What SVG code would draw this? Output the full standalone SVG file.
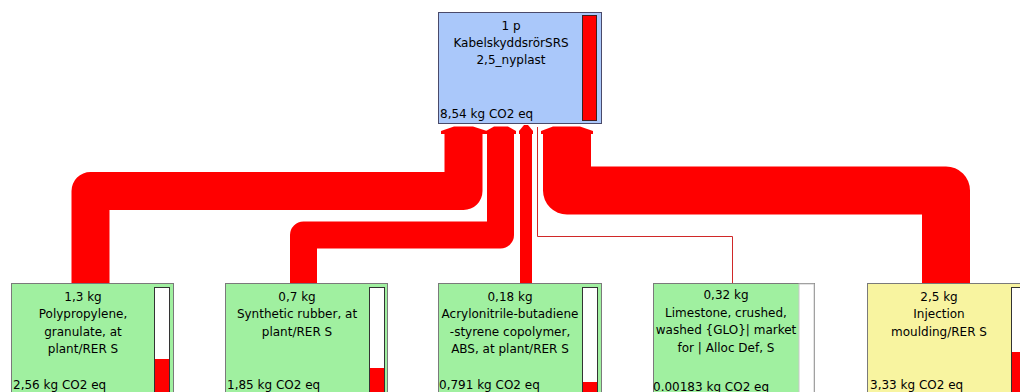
<svg xmlns="http://www.w3.org/2000/svg" width="1020" height="392" viewBox="0 0 1020 392">
<style>
.flow{fill:none;stroke:#ff0000;stroke-linejoin:round;stroke-linecap:butt}
.head{fill:#ff0000}
.box{stroke:#7a7a7a;stroke-width:1}
.top{fill:#aac8fa;stroke:#4a4a6a;stroke-width:1}
.green{fill:#a0f0a0}
.yellow{fill:#f8f4a0}
.bar{fill:#ffffff;stroke:#333333;stroke-width:1}
.red{fill:#ff0000}
text{font-family:"DejaVu Sans","Liberation Sans",sans-serif;font-size:12px;fill:#000}
.c{text-anchor:middle}
</style>
<rect width="1020" height="392" fill="#ffffff"/>
<g id="connectors">
  <polyline class="flow" stroke-width="38" points="463.5,133 463.5,191 90.5,191 90.5,284"/>
  <polygon class="head" points="441,134 441,131 454,126.5 473,126.5 487,131 487,134"/>
  <polyline class="flow" stroke-width="27" points="500.5,133 500.5,235 303.5,235 303.5,284"/>
  <polygon class="head" points="486,134 486,131 494,126.5 508,126.5 516,131 516,134"/>
  <line x1="526" y1="133" x2="526" y2="284" stroke="#ff0000" stroke-width="12"/>
  <polygon class="head" points="519,134 519,131 524,125 528,125 533,131 533,134"/>
  <polyline fill="none" stroke="#d02828" stroke-width="1" points="537.5,127 537.5,236.5 732.5,236.5 732.5,284"/>
  <polyline class="flow" stroke-width="48" points="567,133 567,190.5 946,190.5 946,284"/>
  <polygon class="head" points="541,134 541,131 553,126.5 580,126.5 593,131 593,134"/>
</g>
<g id="node-main">
  <rect class="top" x="438.5" y="12.5" width="163" height="111"/>
  <rect x="582.5" y="15.5" width="14" height="105" fill="#ff0000" stroke="#402020" stroke-width="1"/>
  <text class="c" x="511" y="30">1 p</text>
  <text class="c" x="511" y="47">KabelskyddsrörSRS</text>
  <text class="c" x="511" y="64">2,5_nyplast</text>
  <text x="440" y="117.5">8,54 kg CO2 eq</text>
</g>
<g id="node-polypropylene">
  <rect class="box green" x="11.5" y="283.5" width="162" height="120"/>
  <rect class="bar" x="154.5" y="287.5" width="15" height="110"/>
  <rect class="red" x="155" y="359" width="14" height="38"/>
  <text class="c" x="83" y="301">1,3 kg</text>
  <text class="c" x="83" y="318">Polypropylene,</text>
  <text class="c" x="83" y="335.5">granulate, at</text>
  <text class="c" x="83" y="353">plant/RER S</text>
  <text x="13" y="388.5">2,56 kg CO2 eq</text>
</g>
<g id="node-synthetic-rubber">
  <rect class="box green" x="225.5" y="283.5" width="162" height="120"/>
  <rect class="bar" x="369.5" y="287.5" width="15" height="110"/>
  <rect class="red" x="370" y="368" width="14" height="29"/>
  <text class="c" x="297" y="301">0,7 kg</text>
  <text class="c" x="297" y="318">Synthetic rubber, at</text>
  <text class="c" x="297" y="335.5">plant/RER S</text>
  <text x="227" y="388.5">1,85 kg CO2 eq</text>
</g>
<g id="node-abs">
  <rect class="box green" x="438.5" y="283.5" width="163" height="120"/>
  <rect class="bar" x="582.5" y="287.5" width="15" height="110"/>
  <rect class="red" x="583" y="382" width="14" height="15"/>
  <text class="c" x="510" y="301">0,18 kg</text>
  <text class="c" x="510" y="318">Acrylonitrile-butadiene</text>
  <text class="c" x="510" y="335.5">-styrene copolymer,</text>
  <text class="c" x="510" y="353">ABS, at plant/RER S</text>
  <text x="439" y="388.5">0,791 kg CO2 eq</text>
</g>
<g id="node-limestone">
  <rect class="box green" x="653.5" y="283.5" width="161" height="120"/>
  <rect x="799" y="284" width="15" height="110" fill="#ffffff" stroke="#c8c8c8" stroke-width="1"/>
  <text class="c" x="726" y="298.5">0,32 kg</text>
  <text class="c" x="726" y="316.5">Limestone, crushed,</text>
  <text class="c" x="726" y="334">washed {GLO}| market</text>
  <text class="c" x="726" y="351.5">for | Alloc Def, S</text>
  <text x="653" y="391">0.00183 kg CO2 eq</text>
</g>
<g id="node-injection">
  <rect class="box yellow" x="867.5" y="283.5" width="163" height="120"/>
  <rect class="bar" x="1011.5" y="287.5" width="15" height="110"/>
  <rect class="red" x="1012" y="352" width="14" height="45"/>
  <text class="c" x="939" y="301">2,5 kg</text>
  <text class="c" x="939" y="318">Injection</text>
  <text class="c" x="939" y="335.5">moulding/RER S</text>
  <text x="870" y="388.5">3,33 kg CO2 eq</text>
</g>
</svg>
